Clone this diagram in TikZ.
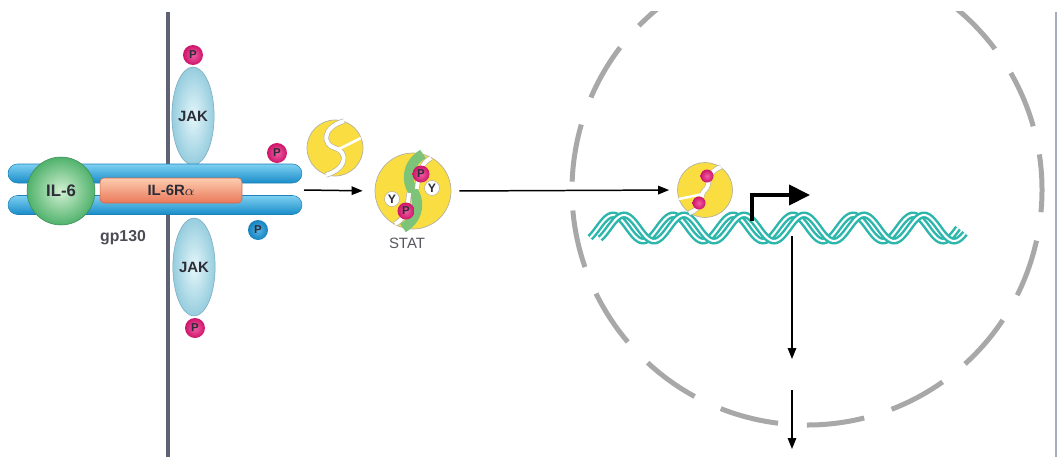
\documentclass[tikz,border=0pt]{standalone}
\usepackage{fontspec}
\setmainfont{Liberation Sans}
\usetikzlibrary{arrows.meta,shapes.geometric,shapes.misc}

\definecolor{membC}{RGB}{95,98,115}
\definecolor{frameC}{RGB}{165,172,188}
\definecolor{barTop}{RGB}{125,208,242}
\definecolor{barMid}{RGB}{45,172,225}
\definecolor{barBot}{RGB}{25,140,200}
\definecolor{barEdge}{RGB}{30,130,185}
\definecolor{ilIn}{RGB}{210,240,210}
\definecolor{ilOut}{RGB}{80,178,108}
\definecolor{ilEdge}{RGB}{60,140,85}
\definecolor{rTop}{RGB}{252,205,175}
\definecolor{rBot}{RGB}{235,120,90}
\definecolor{rEdge}{RGB}{205,105,80}
\definecolor{jakIn}{RGB}{228,246,250}
\definecolor{jakOut}{RGB}{150,205,222}
\definecolor{jakEdge}{RGB}{120,170,190}
\definecolor{pinkIn}{RGB}{240,95,165}
\definecolor{pinkOut}{RGB}{205,20,105}
\definecolor{blueIn}{RGB}{85,180,228}
\definecolor{blueOut}{RGB}{20,130,192}
\definecolor{statY}{RGB}{250,222,65}
\definecolor{statEdge}{RGB}{180,176,160}
\definecolor{statG}{RGB}{125,195,120}
\definecolor{dnaC}{RGB}{45,182,172}
\definecolor{nucC}{RGB}{168,168,168}
\definecolor{txtC}{RGB}{45,45,55}

\begin{document}
\begin{tikzpicture}[x=0.02cm, y=-0.02cm,
  membrane/.style={draw=membC, line width=0.08cm},
  nucleus/.style={draw=nucC, line width=0.1cm, dash pattern=on 1.16cm off 0.576cm},
  gpbar/.style={rounded rectangle, minimum width=5.88cm, minimum height=0.38cm,
    inner sep=0pt, draw=barEdge, line width=0.3pt,
    top color=barTop, middle color=barMid, bottom color=barBot},
  ilball/.style={circle, minimum size=1.36cm, inner sep=0pt, draw=ilEdge, line width=0.3pt,
    inner color=ilIn, outer color=ilOut, text=txtC,
    font=\bfseries\fontsize{9.5}{10}\selectfont},
  ilrec/.style={rectangle, rounded corners=0.08cm, minimum width=2.84cm, minimum height=0.5cm,
    inner sep=0pt, draw=rEdge, line width=0.3pt, top color=rTop, bottom color=rBot,
    text=txtC, font=\bfseries\fontsize{8.5}{9}\selectfont},
  jak/.style={ellipse, minimum width=0.76cm, minimum height=1.96cm, inner sep=0pt,
    draw=jakEdge, line width=0.3pt, inner color=jakIn, outer color=jakOut,
    text=txtC, font=\bfseries\fontsize{8.5}{9}\selectfont},
  phos/.style={circle, minimum size=0.4cm, inner sep=0pt, text=txtC,
    font=\bfseries\fontsize{6.5}{7}\selectfont},
  pP/.style={phos, inner color=pinkIn, outer color=pinkOut},
  bP/.style={phos, inner color=blueIn, outer color=blueOut},
  tyr/.style={circle, minimum size=0.3cm, inner sep=0pt, fill=white, draw=statEdge,
    line width=0.3pt, text=txtC, font=\bfseries\fontsize{7}{7}\selectfont},
  pdot/.style={circle, minimum size=0.26cm, inner sep=0pt, inner color=pinkIn, outer color=pinkOut},
  statdisc/.style={circle, inner sep=0pt, fill=statY, draw=statEdge, line width=0.4pt},
  sband/.style={draw=statEdge, line width=0.35pt, double=white, double distance=0.08cm},
  scut/.style={draw=white, line width=0.05cm},
  lbl/.style={text=txtC!85!white, font=\bfseries\fontsize{9}{10}\selectfont},
  statlbl/.style={text=txtC!80!white, font=\fontsize{8.5}{9}\selectfont},
  flow/.style={draw=black, line width=0.85pt, -{Triangle[length=0.22cm, width=0.17cm]}},
  tss/.style={draw=black, line width=0.08cm, -{Triangle[length=0.42cm, width=0.4cm]}},
  dna/.style={draw=dnaC, line width=0.05cm, double=white, double distance=0.04cm}
]
\useasboundingbox (0,0) rectangle (1058,457);
\fill[white] (0,0) rectangle (1058,457);

% nuclear envelope
\begin{scope}
  \clip (0,11) rectangle (1058,457);
  \draw[nucleus] (807,190) ++(97.4:235) arc[start angle=97.4, end angle=457.4, radius=235];
\end{scope}

% plasma membrane and right frame
\draw[membrane] (168,12) -- (168,457);
\draw[draw=frameC, line width=0.04cm] (1056,12) -- (1056,457);

% Janus kinases
\node[jak] (jakT) at (193,116) {JAK};
\node[jak] (jakB) at (194,267) {JAK};

% gp130 receptor chains
\node[gpbar] (gpT) at (155,173.5) {};
\node[gpbar] (gpB) at (155,205) {};
\node[ilrec] (il6r) at (171,190.5) {IL-6R$\alpha$};
\node[ilball] (il6) at (61,191) {IL-6};
\node[lbl] (gp) at (123,238) {gp130};

% phosphates
\node[pP] (p1) at (193,55) {P};
\node[pP] (p2) at (195,328) {P};
\node[pP] (p3) at (277,153) {P};
\node[bP] (p4) at (258,230) {P};

\coordinate (rec) at (304,190);

% free STAT monomer
\node[statdisc, minimum size=1.12cm] (stat1) at (335,148) {};
\begin{scope}[shift={(stat1.center)}]
  \draw[sband] (9,-27) .. controls (-14,-20) and (-12,-3) .. (0,0)
               .. controls (12,3) and (14,20) .. (-9,27);
  \draw[scut] (26,-10) -- (2,2);
\end{scope}

% phosphorylated STAT dimer
\node[statdisc, minimum size=1.52cm] (dimer) at (413,191) {};
\begin{scope}[shift={(dimer.center)}]
  \draw[statG, line width=0.2cm] (10,-37) .. controls (-8,-26) and (-6,-8) .. (0,0)
               .. controls (6,8) and (8,26) .. (-10,37);
  \draw[sband] (18,-33) .. controls (4,-26) and (5,-8) .. (4,-2);
  \draw[sband] (-18,33) .. controls (-4,26) and (-5,8) .. (-4,2);
  \node[pP, minimum size=0.34cm] (dp1) at (8,-17) {P};
  \node[pP, minimum size=0.34cm] (dp2) at (-7,20) {P};
  \node[tyr] (y1) at (-21,8) {Y};
  \node[tyr] (y2) at (19,-3) {Y};
\end{scope}
\node[statlbl] (statname) at (407,243) {STAT};

% DNA double helix
\draw[dna] plot[domain=590:958, samples=200, smooth] (\x, {228-13*sin(6*(\x-598))});
\draw[dna] plot[domain=600:965, samples=200, smooth] (\x, {228-13*sin(6*(\x-609))});

% STAT dimer bound to DNA
\node[statdisc, minimum size=1.1cm] (nstat) at (705,190) {};
\begin{scope}[shift={(nstat.center)}]
  \draw[sband] (16,-23) .. controls (0,-18) and (6,-4) .. (0,0)
               .. controls (-6,4) and (0,18) .. (-16,23);
  \draw[scut] (-2,4) -- (-26,9);
  \node[pdot] (nd1) at (2,-14) {};
  \node[pdot] (nd2) at (-6,13) {};
\end{scope}

% transcription start
\coordinate (tssBase) at (752,221);
\coordinate (tssTip) at (810,195);
\draw[tss] (tssBase) |- (tssTip);

% signalling flow
\draw[flow, shorten >=0.24cm] (rec) -- (dimer.west);
\draw[flow, shorten <=0.16cm, shorten >=0.16cm] (dimer.east) -- (nstat.west);

\coordinate (gene) at (792,236);
\coordinate (mrna) at (792,359);
\coordinate (exit) at (792,390);
\coordinate (prot) at (792,449);
\draw[flow] (gene) -- (mrna);
\draw[flow] (exit) -- (prot);
\end{tikzpicture}
\end{document}
